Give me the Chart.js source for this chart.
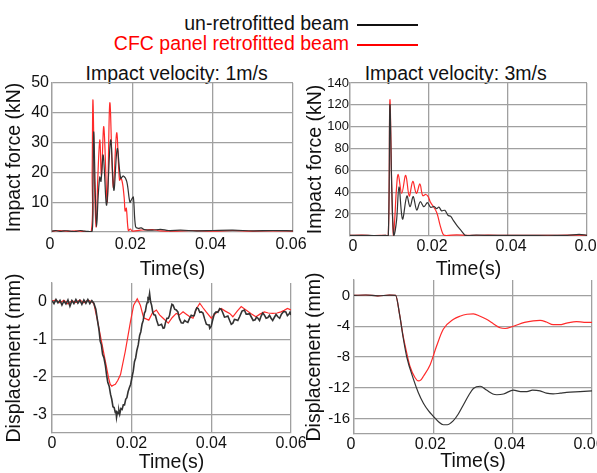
<!DOCTYPE html>
<html><head><meta charset="utf-8">
<script src="https://cdn.jsdelivr.net/npm/chart.js@4/dist/chart.umd.min.js"></script>
<style>
html,body{margin:0;padding:0;background:#fff;overflow:hidden;width:597px;height:473px;}
body{position:relative;font-family:"Liberation Sans",Arial,sans-serif;color:#111;}
canvas{position:absolute;left:0;top:0;}
.t{position:absolute;white-space:nowrap;font-size:19.5px;line-height:19.5px;}
.ln{position:absolute;height:2px;}
</style></head><body>
<div class="t" style="right:248px;top:14px;color:#111;">un-retrofitted beam</div>
<div class="ln" style="left:357px;width:61px;top:23.5px;background:#111;"></div>
<div class="t" style="right:248px;top:33.5px;color:#ff0000;">CFC panel retrofitted beam</div>
<div class="ln" style="left:357px;width:61px;top:43.5px;background:#ff0000;"></div>
<div class="t" style="left:85.6px;top:64.2px;">Impact velocity: 1m/s</div>
<div class="t" style="left:364.7px;top:64.2px;">Impact velocity: 3m/s</div>
<canvas id="c1" width="597" height="480"></canvas>
<canvas id="c2" width="597" height="480"></canvas>
<canvas id="c3" width="597" height="480"></canvas>
<canvas id="c4" width="597" height="480"></canvas>
<script>
// ---------- DATA (time in ms) ----------
// Impact force, 1 m/s
const f1UnretroT = [0,1,2,3,4,5,6,7,8,9,10.0,10.2,10.4,10.8,11.1,11.5,11.9,12.2,12.75,13.6,14.6,15.4,16.25,17.1,17.75,18.6,19.4,19.85,20.25,20.8,21.5,22.2,23,25,27,29,32,36,40,45,50,55,60];
const f1UnretroKN = [0.3,0.5,0.2,0.4,0.4,0.2,0.2,0.5,0.3,0.2,0.3,15,33.6,12,1.8,12,18.5,17,25.8,9,30.9,14,28,18,18.8,17,10,11,11.7,1.8,1.2,1.4,0.8,0.6,0.9,0.5,0.6,0.4,0.5,0.6,0.4,0.5,0.4];
const f1CfcT = [0,2,4,6,8,9.8,10.0,10.2,10.6,11.0,11.4,11.9,12.3,12.9,13.75,14.4,15.25,16.1,16.8,17.2,17.6,18.0,18.2,18.5,19.0,19.5,20,22,25,27,30,35,40,45,50,55,60];
const f1CfcKN = [0.3,0.5,0.2,0.4,0.2,0.3,20,44.3,15,1.7,18,30.9,19,35.3,10,43.4,15,33.3,17.4,18,16,11,7,8,0.5,1,0.3,0.6,0.8,0.4,0.3,0.5,0.3,0.5,0.3,0.4,0.3];
// Impact force, 3 m/s
const f3UnretroT = [0,3,6,9,9.7,10.1,10.6,11.1,11.8,12.4,13.3,14.4,15.2,16.0,16.9,17.8,18.7,19.6,20.4,21.3,21.9,22.5,23.2,24.0,24.8,25.5,26.2,27.0,27.9,28.7,29.2,32,36,40,45,50,55,58,60];
const f3UnretroKN = [0.5,0.6,0.4,0.5,0.5,120,40,0,14.6,45,15.5,36.6,26.8,36,23.8,31.4,26.8,30.5,26.3,27,25,26.5,23,23.5,19,18,14,10,6,2.4,0.5,0.8,0.5,0.6,0.5,0.7,0.6,1.5,0.6];
const f3CfcT = [0,3,6,9,9.7,10.1,10.6,11.0,11.4,11.7,12.2,13.1,14.1,15.0,15.9,16.8,17.7,18.4,19.2,19.8,20.3,21.9,22.8,23.5,24,27,30,35,40,45,50,55,60];
const f3CfcKN = [0.5,0.8,0.4,0.6,0.5,124.4,40,0,20,40,56.4,39,55.5,36.6,50,39,47.6,37,38,36,31.4,22,10,2,0.5,1,0.6,0.8,0.5,0.7,0.5,0.8,0.6];
// Displacement, 1 m/s
const d1UnretroT = [0,0.5,1,1.5,2,2.5,3,3.5,4,4.5,5,5.5,6,6.5,7,7.5,8,8.5,9,9.5,10,10.5,11,11.5,11.8,12.1,12.4,12.7,13.05,13.4,13.7,14.0,14.35,14.7,15.0,15.3,15.6,15.9,16.05,16.2,16.4,16.6,16.8,17.0,17.3,17.6,17.9,18.2,18.5,18.8,19.1,19.4,19.75,20.1,20.4,20.7,21.0,21.3,21.65,22.0,22.3,22.6,22.9,23.2,23.45,23.7,23.9,24.1,24.3,24.5,24.75,25.0,25.3,25.6,25.95,26.3,26.7,27.1,27.5,27.9,28.2,28.5,28.85,29.2,29.5,29.8,30.1,30.4,30.8,31.2,31.6,32.0,32.45,32.9,33.3,33.7,34.1,34.5,34.95,35.4,35.7,36.0,36.35,36.7,37.1,37.5,37.9,38.3,38.75,39.2,39.4,39.6,39.95,40.3,40.75,41.2,41.65,42.1,42.5,42.9,43.3,43.7,44.15,44.6,45.0,45.4,45.8,46.2,46.65,47.1,47.7,48.3,48.75,49.2,49.6,50.0,50.5,51.0,51.35,51.7,52.1,52.5,52.9,53.3,53.75,54.2,54.6,55.0,55.4,55.8,56.25,56.7,57.15,57.6,58.15,58.7,59.1,59.5,59.75,60];
const d1UnretroMM = [0.03,-0.05,0.06,-0.03,0.04,-0.09,0.02,-0.06,0.05,-0.12,0.03,-0.05,0.06,-0.04,0.04,-0.07,0.05,-0.04,0.06,-0.05,0.03,-0.04,-0.2,-0.55,-0.75,-1.05,-1.15,-1.4,-1.5,-1.7,-1.95,-2.15,-2.25,-2.47,-2.6,-2.8,-2.82,-2.96,-2.9,-3.08,-2.95,-2.98,-2.9,-3.0,-2.85,-2.87,-2.75,-2.75,-2.6,-2.56,-2.4,-2.3,-2.2,-2.0,-1.85,-1.6,-1.5,-1.3,-1.15,-0.9,-0.8,-0.6,-0.5,-0.3,-0.25,-0.09,-0.02,0.1,0.08,0.22,0.0,-0.09,-0.28,-0.35,-0.36,-0.5,-0.63,-0.62,-0.6,-0.71,-0.7,-0.55,-0.44,-0.44,-0.37,-0.2,-0.07,-0.09,-0.2,-0.22,-0.27,-0.45,-0.56,-0.57,-0.5,-0.53,-0.55,-0.45,-0.36,-0.38,-0.37,-0.25,-0.16,-0.18,-0.28,-0.27,-0.3,-0.45,-0.6,-0.62,-0.6,-0.71,-0.66,-0.5,-0.32,-0.27,-0.28,-0.18,-0.2,-0.3,-0.41,-0.4,-0.38,-0.5,-0.6,-0.57,-0.47,-0.48,-0.5,-0.4,-0.25,-0.22,-0.33,-0.33,-0.32,-0.4,-0.5,-0.48,-0.41,-0.44,-0.5,-0.38,-0.3,-0.35,-0.44,-0.42,-0.36,-0.44,-0.5,-0.42,-0.34,-0.4,-0.44,-0.33,-0.26,-0.27,-0.37,-0.33,-0.28,-0.35];
const d1CfcT = [0,1,2,3,4,5,6,7,8,9,10,10.5,11.3,12.1,13.4,14.2,14.6,15.0,15.5,15.9,16.5,17.2,18.4,19.7,20.5,21.4,22.2,23.0,24.3,25.2,26.2,27.0,27.9,29.2,30.2,31.2,32.0,32.9,33.8,34.6,35.4,36.2,37.1,37.9,38.7,40.0,40.6,41.2,42.5,43.5,44.6,45.4,46.5,47.5,48.7,50.0,51.2,52.2,53.3,54.3,55.4,56.5,57.5,58.3,59.1,60];
const d1CfcMM = [0.02,0.05,-0.03,0.04,-0.06,0.03,-0.02,0.05,-0.03,0.04,0.0,-0.05,-0.44,-0.88,-1.59,-2.03,-2.2,-2.25,-2.22,-2.2,-2.1,-1.94,-1.32,-0.53,-0.09,0.08,-0.1,-0.43,-0.49,-0.3,-0.22,-0.35,-0.44,-0.57,-0.42,-0.31,-0.35,-0.27,-0.34,-0.4,-0.44,-0.2,-0.04,-0.16,-0.27,-0.44,-0.36,-0.3,-0.18,-0.25,-0.31,-0.4,-0.25,-0.13,-0.22,-0.32,-0.4,-0.33,-0.27,-0.3,-0.31,-0.3,-0.27,-0.23,-0.18,-0.22];
// Displacement, 3 m/s
const d3UnretroT = [0,3,6,9,10.5,11.5,12.4,13.3,15.0,16.2,17.5,18.8,20.0,21.3,22.5,23.5,25.0,26.3,27.6,29.0,30.1,31.8,33.4,35.0,36.0,37.7,40.2,42,43.6,45,46.9,48.5,50.2,52,53.6,57,60];
const d3UnretroMM = [0,0.05,-0.05,0.03,0,-2.5,-5.5,-8.0,-10.9,-12.6,-14,-15,-15.7,-16.4,-16.8,-16.8,-16.3,-15.4,-14.2,-12.9,-12.1,-11.8,-12.3,-12.8,-12.9,-12.8,-12.3,-12.5,-12.5,-12.3,-12.4,-12.7,-12.8,-12.7,-12.6,-12.5,-12.4];
const d3CfcT = [0,3,6,9,10.5,11.5,12.4,13.3,14.1,15.4,16.2,16.8,17.5,19.2,20.8,22.5,25.1,26.7,28.5,30.1,31.8,33.4,35.2,36.8,38.1,40.2,43.0,45.2,46.9,48.5,50.2,51.8,53.6,56.1,58,60];
const d3CfcMM = [0,0.05,-0.05,0.03,0,-2.5,-5.3,-7.5,-9.2,-10.7,-11.1,-11.0,-10.5,-9.0,-6.6,-4.4,-3.1,-2.7,-2.45,-2.4,-2.7,-3.1,-3.7,-4.2,-4.3,-4.0,-3.5,-3.3,-3.25,-3.45,-3.8,-3.8,-3.6,-3.4,-3.5,-3.5];

// x tick labels shown (s)
const xTickLabels = ['0','0.02','0.04','0.06'];

// ---------- BUILD ----------
const BLACK = '#333333', RED = '#ff2a2a';
const FONT = '"Liberation Sans", Arial, sans-serif';
const GRID = '#a0a0a0';
function pts(t, v){ return t.map((x,i)=>({x:x/1000, y:v[i]})); }

function makeChart(id, o){
  const curve = o.curve || {};
  new Chart(document.getElementById(id), {
    type:'line',
    data:{datasets:[
      Object.assign({label:'un-retrofitted beam', data:pts(o.bt,o.bv), borderColor:BLACK, borderWidth:o.bw||1.2, pointRadius:0, fill:false}, curve),
      Object.assign({label:'CFC panel retrofitted beam', data:pts(o.rt,o.rv), borderColor:RED, borderWidth:1.2, pointRadius:0, fill:false}, curve)
    ]},
    options:{
      responsive:false, animation:false, devicePixelRatio:1,
      layout:{padding:{left:o.padL, top:o.padT, right:o.padR, bottom:o.padB}},
      plugins:{legend:{display:false}, tooltip:{enabled:false}},
      scales:{
        x:{type:'linear', min:0, max:0.06,
          grid:{color:GRID, lineWidth:1.3, drawTicks:false},
          border:{color:GRID, width:1.3},
          ticks:{stepSize:0.01, padding:o.xPad, labelOffset:o.xOff||0, color:'#111', font:{family:FONT,size:16}, maxRotation:0, autoSkip:false,
            callback:(v)=>{ const k=Math.round(v*100); return k%2===0 ? xTickLabels[k/2] : null; }},
          title:{display:true, text:'Time(s)', color:'#111', font:{family:FONT,size:19.5}, padding:{top:0,bottom:0}},
          afterFit:(s)=>{ s.height=o.xH; s.paddingLeft=0; s.paddingRight=0; }
        },
        y:{type:'linear', min:o.yMin, max:o.yMax,
          grid:{color:GRID, lineWidth:1.3, drawTicks:false},
          border:{color:GRID, width:1.3},
          ticks:{stepSize:o.yStep, padding:o.yPad, color:'#111', font:{family:FONT,size:o.yFont}, autoSkip:false,
            callback:o.yLab},
          title:{display:true, text:o.yTitle, color:'#111', font:{family:FONT,size:19.5}, padding:{top:0,bottom:0}},
          afterFit:(s)=>{ s.width=o.yW; }
        }
      }
    }
  });
}

const smooth = {tension:0.35};
const mono = {cubicInterpolationMode:'monotone'};
makeChart('c1',{bt:f1UnretroT,bv:f1UnretroKN,rt:f1CfcT,rv:f1CfcKN,curve:smooth,
  padL:3.3,padT:83,padR:304,padB:198.3,xH:49.7,yW:48.7,xPad:3,yPad:3,yFont:16,xOff:-2,
  yMin:0,yMax:50,yStep:5,yTitle:'Impact force (kN)',
  yLab:(v)=> (v!==0 && Math.round(v)%10===0) ? String(Math.round(v)) : null});
makeChart('c2',{bt:f3UnretroT,bv:f3UnretroKN,rt:f3CfcT,rv:f3CfcKN,curve:smooth,
  padL:304.3,padT:83,padR:10,padB:198.3,xH:45.7,yW:45.7,xPad:1.4,yPad:1,yFont:13,xOff:3,
  yMin:0,yMax:140,yStep:20,yTitle:'Impact force (kN)',
  yLab:(v)=> v!==0 ? String(Math.round(v)) : null});
makeChart('c3',{bt:d1UnretroT,bv:d1UnretroMM,rt:d1CfcT,rv:d1CfcMM,bw:1.6,
  padL:3.3,padT:283,padR:306,padB:5.3,xH:41.7,yW:48.7,xPad:1.4,yPad:5,yFont:16,
  yMin:-3.5,yMax:0.5,yStep:0.5,yTitle:'Displacement (mm)',
  yLab:(v)=> Math.abs(v-Math.round(v))<1e-6 ? String(Math.round(v)) : null});
makeChart('c4',{bt:d3UnretroT,bv:d3UnretroMM,rt:d3CfcT,rv:d3CfcMM,curve:mono,
  padL:303.3,padT:280,padR:5,padB:6.3,xH:39.7,yW:50.7,xPad:1.4,yPad:4,yFont:15,xOff:-3,
  yMin:-18,yMax:2,yStep:2,yTitle:'Displacement (mm)',
  yLab:(v)=> (Math.round(v)%4===0) ? String(Math.round(v)) : null});
</script>
</body></html>
